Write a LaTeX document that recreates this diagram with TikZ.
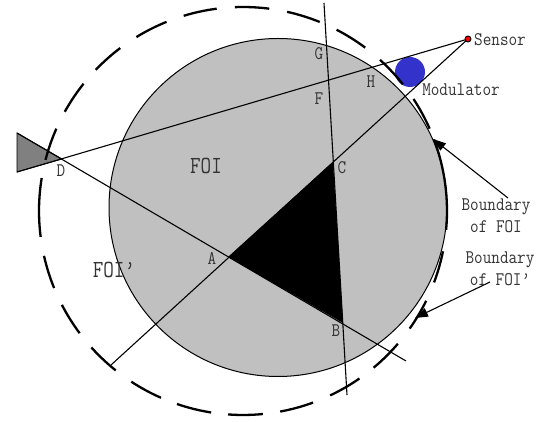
\documentclass[tikz,border=0pt]{standalone}
\usepackage{xcolor}
\usepackage{tikz}
\usetikzlibrary{arrows.meta}
\definecolor{foiGray}{HTML}{C0C0C0}
\definecolor{wedgeGray}{HTML}{808080}
\definecolor{modBlue}{HTML}{3333CC}
\newcommand{\rimdash}[2]{\draw[rim] ([shift={(#1:204)}]rimc) arc[start angle=#1, end angle=#2, radius=204];}

\begin{document}
\begin{tikzpicture}[
    x=1pt, y=1pt,
    font=\ttfamily\fontsize{16.7}{19}\selectfont,
    region/.style={font=\ttfamily\fontsize{20.5}{24}\selectfont, text=black!80, inner sep=0pt, yscale=1.2, transform shape},
    note/.style={align=center, text=black!80, inner sep=0pt, yscale=1.15, transform shape},
    corner/.style={text=black!80, inner sep=0pt, yscale=1.15, transform shape},
    rim/.style={line width=2.3pt, draw=black},
    ray/.style={line width=1.1pt, draw=black},
    pointer/.style={-{Triangle[length=13pt, width=9pt]}, line width=1.1pt, draw=black}
]
\useasboundingbox (0,0) rectangle (542,422);

\coordinate (rimc) at (243,211);
\coordinate (sensorpt) at (468,383);
\coordinate (wedgeup) at (17,289);
\coordinate (wedgelow) at (17,250);
\coordinate (ptD) at (62,263);
\coordinate (ptA) at (228,165);
\coordinate (ptB) at (343,99);
\coordinate (ptC) at (333,260);
\coordinate (rayend) at (406,61);
\coordinate (raytail) at (111,57);
\coordinate (chordtop) at (324,419);
\coordinate (chordlow) at (347,27);
\coordinate (foitail) at (508,224);
\coordinate (foitip) at (433,283);
\coordinate (primetail) at (490,140);
\coordinate (primetip) at (415,104);

\node[circle, draw=black, fill=foiGray, line width=1pt, minimum size=338pt, inner sep=0pt] (foi) at (278,214.5) {};
\node[circle, fill=modBlue, minimum size=30pt, inner sep=0pt] (modulator) at (410,350) {};
\fill[black] (ptA) -- (ptB) -- (ptC) -- cycle;
\draw[black, fill=wedgeGray, line width=0.8pt] (wedgeup) -- (ptD) -- (wedgelow) -- cycle;

\draw[ray] (wedgeup) -- (rayend);
\draw[ray] (wedgelow) -- (sensorpt);
\draw[ray] (sensorpt) -- (raytail);
\draw[ray] (chordtop) -- (chordlow);

\rimdash{150.9}{141.4}
\rimdash{136.2}{127.0}
\rimdash{121.5}{112.0}
\rimdash{106.9}{97.4}
\rimdash{92.3}{82.6}
\rimdash{77.5}{67.9}
\rimdash{62.7}{53.2}
\rimdash{47.8}{38.4}
\rimdash{33.3}{23.8}
\rimdash{20.5}{-5.3}
\rimdash{-11.4}{-20.5}
\rimdash{-26.1}{-35.2}
\rimdash{-40.6}{-50.2}
\rimdash{-55.2}{-64.7}
\rimdash{-69.9}{-79.5}
\rimdash{-84.4}{-94.2}
\rimdash{-99.0}{-108.9}
\rimdash{-113.7}{-123.2}
\rimdash{-128.6}{-138.0}
\rimdash{-143.2}{-152.6}
\rimdash{-157.8}{-167.3}
\rimdash{-172.7}{-189.3}
\rimdash{165.5}{156.2}

\node[circle, draw=black, fill=red, line width=0.9pt, minimum size=6pt, inner sep=0pt] (sensor) at (sensorpt) {};

\draw[pointer] (foitail) -- (foitip);
\draw[pointer] (primetail) -- (primetip);

\node[note] (sensorlabel) at (500,382) {Sensor};
\node[note] (modlabel) at (461,332) {Modulator};
\node[note] (foibound) at (496,206) {Boundary\\of FOI};
\node[note] (primebound) at (500,153) {Boundary\\of FOI’};
\node[region] (foilabel) at (206,256) {FOI};
\node[region] (primelabel) at (114,152) {FOI’};
\node[corner] (labA) at (212,163) {A};
\node[corner] (labB) at (336,91) {B};
\node[corner] (labC) at (342,254) {C};
\node[corner] (labD) at (61,251) {D};
\node[corner] (labF) at (319,323) {F};
\node[corner] (labG) at (319,368) {G};
\node[corner] (labH) at (371,340) {H};
\end{tikzpicture}
\end{document}
